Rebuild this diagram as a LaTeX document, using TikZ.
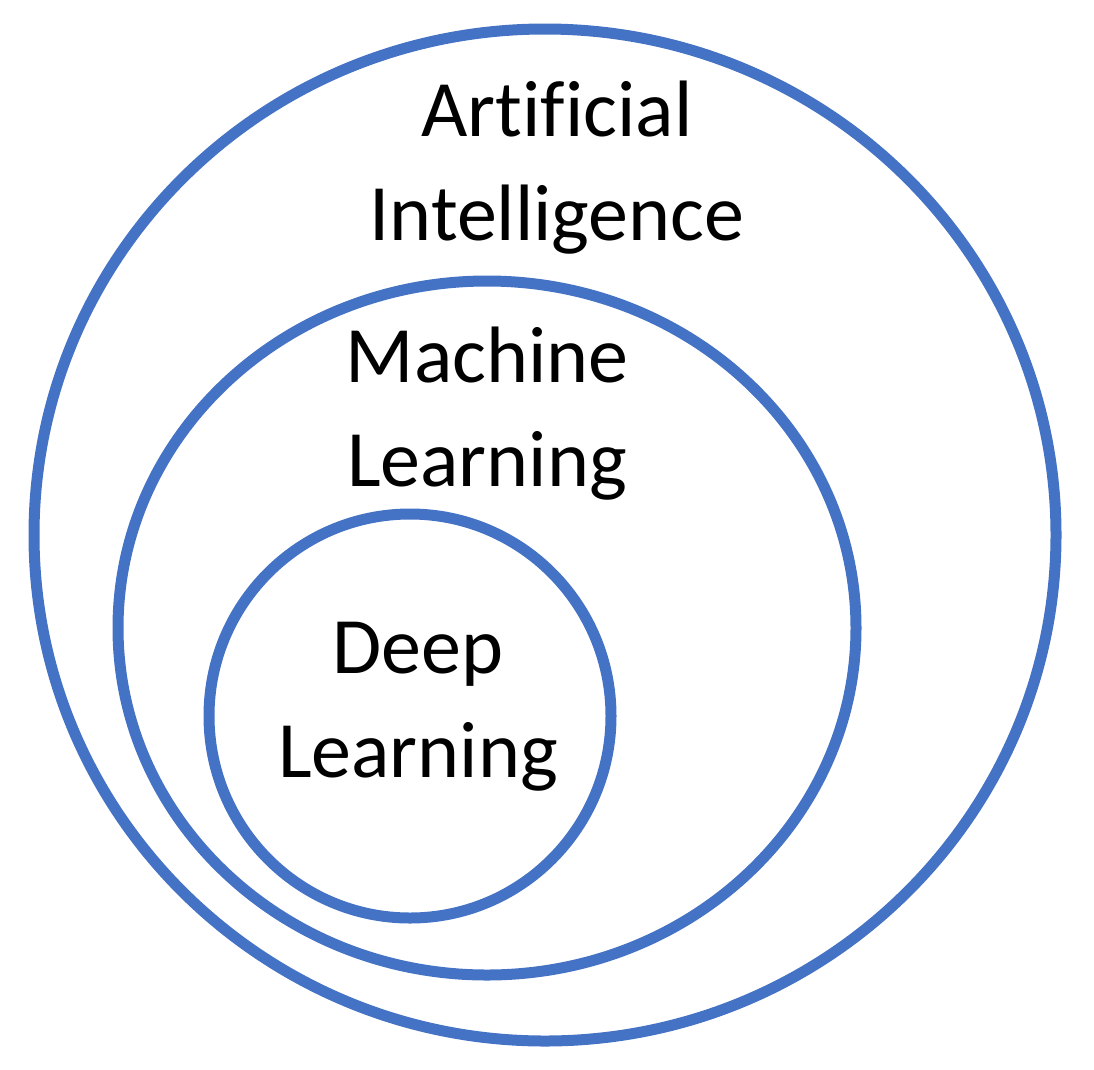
\documentclass[tikz,border=0pt]{standalone}
\usepackage{fontspec}
\setmainfont[Ligatures=NoCommon]{Carlito}
\begin{document}
\begin{tikzpicture}[x=1pt,y=-1pt,
  ring/.style={draw={rgb,255:red,68;green,114;blue,196},line width=11pt},
  lbl/.style={align=center,font=\fontsize{80}{104}\selectfont,inner sep=0pt}]
\useasboundingbox (0,0) rectangle (1094,1069);
\draw[ring] (545,535) ellipse [x radius=511, y radius=506];
\draw[ring] (487,628) ellipse [x radius=369, y radius=347];
\draw[ring] (410,716) ellipse [x radius=201, y radius=202];
\node[lbl] (ai) at (557,168) {Artificial\\Intelligence};
\node[lbl] (ml) at (487,414) {Machine\\Learning};
\node[lbl] (dl) at (418,707) {Deep\\Learning};
\end{tikzpicture}
\end{document}
